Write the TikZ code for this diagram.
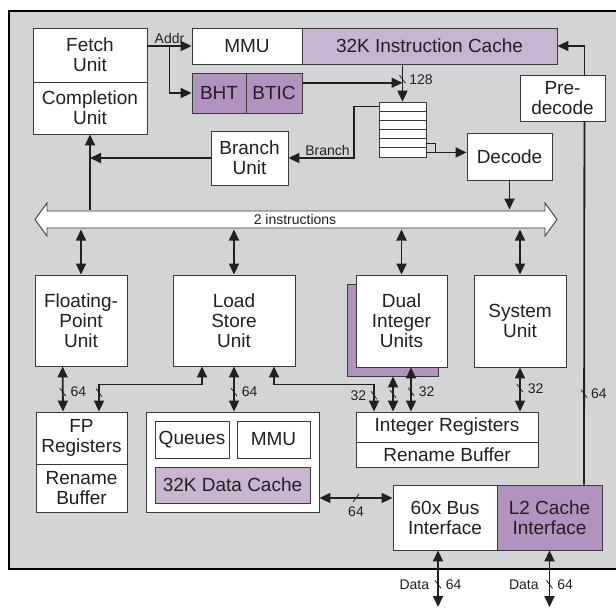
\documentclass[tikz,border=0pt]{standalone}
\usepackage{fontspec}
\setmainfont{Liberation Sans}
\usepackage{tikz}
\usetikzlibrary{arrows.meta,calc}

\definecolor{chipgray}{HTML}{D3D4D6}
\definecolor{cachelight}{HTML}{C9B5D2}
\definecolor{cachedark}{HTML}{B193BF}
\definecolor{edge}{HTML}{3A3A3A}
\definecolor{ink}{HTML}{231F20}

\begin{document}
\begin{tikzpicture}[
  x=1pt, y=-1pt,
  block/.style={rectangle, draw=edge, line width=0.9pt, fill=white, inner sep=0pt, align=center, text=ink, font=\fontsize{19}{20}\selectfont},
  lbl/.style={font=\fontsize{14}{15}\selectfont, inner sep=1pt, text=ink},
  conn/.style={->, >={Triangle[length=11pt,width=10pt]}, line width=1.8pt, draw=ink},
  dconn/.style={<->, >={Triangle[length=11pt,width=10pt]}, line width=1.8pt, draw=ink},
  wire/.style={line width=1.8pt, draw=ink},
  slash/.pic={\draw[line width=0.8pt, -, draw=ink] (-3,-4) -- (3,4);},
  rslash/.pic={\draw[line width=0.8pt, -, draw=ink] (-3,4) -- (3,-4);}
]

% Chip outline
\clip (0,0) rectangle (616,608);
\fill[white] (0,0) rectangle (616,608);
\draw[fill=chipgray, line width=2pt] (9,11) rectangle (630,569);

% Fetch side
\node[block, minimum width=114, minimum height=54] (fetch) at (90,55) {Fetch\\Unit};
\node[block, minimum width=114, minimum height=52] (compl) at (90,108) {Completion\\Unit};
\node[block, minimum width=110, minimum height=36] (mmu) at (247,46) {MMU};
\node[block, fill=cachelight, minimum width=255, minimum height=36] (icache) at (429.5,46) {32K Instruction Cache};
\node[block, fill=cachedark, minimum width=54, minimum height=40] (bht) at (219,93) {BHT};
\node[block, fill=cachedark, minimum width=56, minimum height=40] (btic) at (274,93) {BTIC};
\node[block, minimum width=77, minimum height=54] (branch) at (249.5,158) {Branch\\Unit};

% Instruction queue
\foreach \i in {1,...,6}
  \node[block, line width=0.7pt, minimum width=47, minimum height=9.17] (q\i) at (402.5,{97.4+9.17*\i}) {};

\node[block, minimum width=85, minimum height=47] (decode) at (509.5,156.5) {Decode};
\node[block, minimum width=85, minimum height=46] (predec) at (562.5,98) {Pre-\\decode};

% Dispatch bus
\coordinate (bust) at (0,209.5);
\coordinate (busb) at (0,229.5);
\draw[fill=white, draw=edge, line width=0.9pt] (47,211) -- (545,211) -- (545,203) -- (557,219.5) -- (545,236) -- (545,228) -- (47,228) -- (47,236) -- (35,219.5) -- (47,203) -- cycle;
\node[lbl] (bus) at (295,219.5) {2 instructions};

% Execution units
\node[block, minimum width=92, minimum height=91] (fpu) at (81,320.5) {Floating-\\Point\\Unit};
\node[block, minimum width=122, minimum height=91] (lsu) at (234,320.5) {Load\\Store\\Unit};
\node[block, fill=cachedark, minimum width=91, minimum height=92] (dualsh) at (392.5,330) {};
\node[block, minimum width=91, minimum height=92] (dual) at (401.5,321) {Dual\\Integer\\Units};
\node[block, minimum width=92, minimum height=92] (sys) at (520,321) {System\\Unit};

% Registers and data side
\node[block, minimum width=91, minimum height=52] (fpreg) at (81.5,438) {FP\\Registers};
\node[block, minimum width=91, minimum height=48] (fpren) at (81.5,488) {Rename\\Buffer};
\node[block, minimum width=173, minimum height=100] (dmem) at (232.5,462) {};
\node[block, minimum width=74, minimum height=37] (queues) at (192,439.5) {Queues};
\node[block, minimum width=73, minimum height=37] (dmmu) at (273.5,439.5) {MMU};
\node[block, fill=cachelight, minimum width=155, minimum height=36] (dcache) at (232.5,485) {32K Data Cache};
\node[block, minimum width=182, minimum height=30] (intreg) at (447,427) {Integer Registers};
\node[block, minimum width=182, minimum height=25] (intren) at (447,454.5) {Rename Buffer};

% Bus interfaces
\node[block, minimum width=104, minimum height=65] (bif) at (445,517.5) {60x Bus\\Interface};
\node[block, fill=cachedark, minimum width=105, minimum height=65] (l2) at (549.5,517.5) {L2 Cache\\Interface};
\coordinate (bifout) at (438,607);

% Arrows
\draw[conn] (fetch.east |- mmu.west) -- node[lbl, above]{Addr} coordinate[midway] (addr) (mmu.west);
\draw[conn] (addr) |- (bht.west);
\coordinate (bticout) at ($(btic.north east)!.25!(btic.south east)$);
\draw[conn] (bticout) -- (bticout -| q1.north);
\draw[conn] (q1.north |- icache.south) -- (q1.north) pic[pos=.4]{slash} node[lbl, right=5pt, pos=.4]{128};
\draw[conn] (q1.west) -- ++(-25,0) |- node[lbl, above, pos=.7]{Branch} (branch.east);
\draw[conn] (q6.east) -- (q6.east -| decode.west);
\draw[line width=1.2pt, draw=ink] (q5.east) -- ++(9,0) |- (q6.east);
\draw[conn] (decode.south) -- (decode.south |- bust);
\draw[conn] (compl.south |- bust) -- (compl.south);
\draw[conn] (branch.west) -- (branch.west -| compl.south);

\foreach \u in {fpu,lsu,dual,sys}
  \draw[dconn] (\u.north |- busb) -- (\u.north);

\draw[dconn] ([xshift=28]fpu.south west) -- ([xshift=-18.5]fpreg.north) pic[pos=.57]{slash} node[lbl, right=6pt, pos=.57]{64};
\draw[dconn] ([xshift=17.5]fpreg.north) -- ++(0,-27) pic[pos=.7]{slash} -| ([xshift=-32]lsu.south);
\draw[dconn] (lsu.south) -- (lsu.south |- dmem.north) pic[pos=.57]{slash} node[lbl, right=6pt, pos=.57]{64};
\draw[dconn] ([xshift=40]lsu.south) -- ++(0,18) -| ([xshift=-73]intreg.north) pic[pos=.7]{slash} node[lbl, left=6pt, pos=.7]{32};
\draw[dconn] ([xshift=0.5]dualsh.south) -- ([xshift=-54]intreg.north) pic[pos=.5]{slash};
\draw[dconn] ([xshift=9.5]dual.south) -- ([xshift=-36]intreg.north) pic[pos=.55]{slash} node[lbl, right=6pt, pos=.55]{32};
\draw[dconn] (sys.south) -- (sys.south |- intreg.north) pic[pos=.47]{slash} node[lbl, right=6pt, pos=.47]{32};

\draw[dconn] ([yshift=-36]dmem.east) -- ([yshift=19.5]bif.west) pic[pos=.5]{rslash} node[lbl, below=7pt, pos=.5]{64};
\draw[dconn] ([xshift=-7]bif.south) -- (bifout) pic[pos=.6]{slash} node[lbl, left=7pt, pos=.6]{Data} node[lbl, right=6pt, pos=.6]{64};
\draw[dconn] (l2.south) -- (l2.south |- bifout) pic[pos=.6]{slash} node[lbl, left=9pt, pos=.6]{Data} node[lbl, right=6pt, pos=.6]{64};

\draw[wire] ([xshift=-21]predec.south east) -- ([xshift=34.5]l2.north) pic[pos=.75]{slash} node[lbl, right=5pt, pos=.75]{64};
\draw[conn] ([xshift=-21]predec.north east) |- (icache.east);

\end{tikzpicture}
\end{document}
